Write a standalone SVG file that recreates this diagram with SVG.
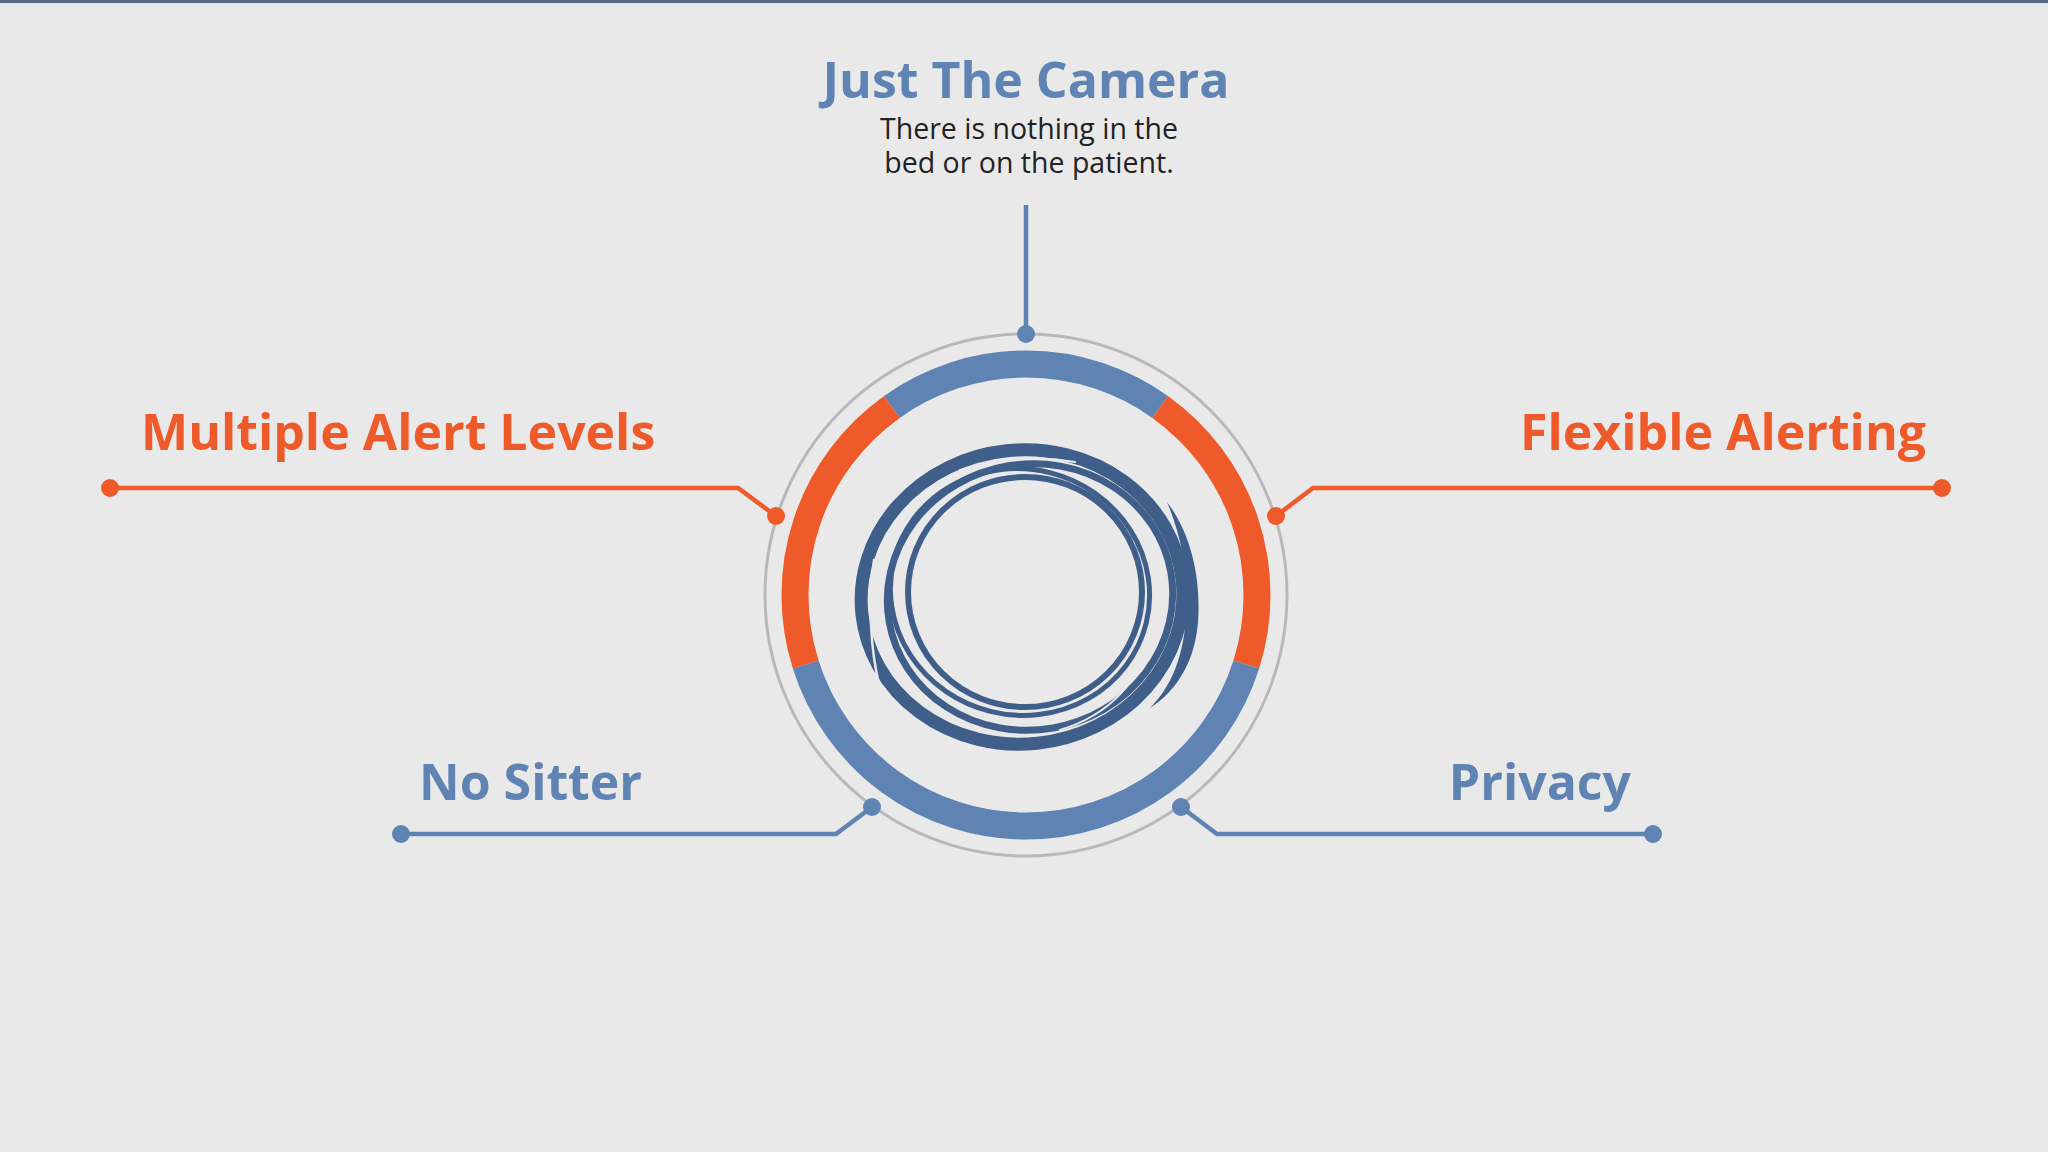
<svg xmlns="http://www.w3.org/2000/svg" width="2048" height="1152" viewBox="0 0 2048 1152">
<style>
.h{font-family:"Open Sans","Noto Sans","Liberation Sans",sans-serif;font-weight:700;font-size:50px}
.o{fill:#ef5a2a}
.b{fill:#5f83b2}
.sub{font-family:"Open Sans","Noto Sans","Liberation Sans",sans-serif;font-size:28.5px;fill:#222}
.lo{stroke:#ef5a2a;stroke-width:4.5;fill:none}
.lb{stroke:#5f83b2;stroke-width:4.5;fill:none}
.sw{fill:none;stroke:#3f5f8a}
.gap{fill:none;stroke:#e9e9e9;stroke-linecap:round}
</style>
<rect width="2048" height="1152" fill="#e9e9e9"/>
<rect width="2048" height="3" fill="#5a6888"/>

<g id="hub">
<circle cx="1026" cy="595" r="261" fill="none" stroke="#b8b8b8" stroke-width="3"/>
<path d="M 891.9 406.9 A 231 231 0 0 1 1160.1 406.9" fill="none" stroke="#5f83b2" stroke-width="27"/>
<path d="M 1160.1 406.9 A 231 231 0 0 1 1246.3 664.5" fill="none" stroke="#ef5a2a" stroke-width="27"/>
<path d="M 1246.3 664.5 A 231 231 0 0 1 805.7 664.5" fill="none" stroke="#5f83b2" stroke-width="27"/>
<path d="M 805.7 664.5 A 231 231 0 0 1 891.9 406.9" fill="none" stroke="#ef5a2a" stroke-width="27"/>
<g id="swirl">
<ellipse class="sw" cx="1022" cy="597" rx="161" ry="147" stroke-width="13" transform="rotate(-6 1022 597)"/>
<path fill="#3f5f8a" d="M 1167 502 C 1192 535 1201 580 1198 622 C 1195 660 1178 690 1150 708 C 1172 686 1184 655 1186 615 C 1188 575 1182 537 1167 502 Z"/>
<ellipse class="sw" cx="1030" cy="597" rx="143" ry="133" stroke-width="7" transform="rotate(-10 1030 597)"/>
<ellipse class="sw" cx="1020" cy="592" rx="130" ry="123" stroke-width="5" transform="rotate(14 1020 592)"/>
<ellipse class="sw" cx="1025" cy="592" rx="117" ry="115" stroke-width="6"/>
<path class="gap" stroke-width="2.5" d="M 874 560 C 868 600 870 650 880 688"/>
<path class="gap" stroke-width="2" d="M 960 470 C 1000 458 1040 456 1075 462"/>
<path class="gap" stroke-width="2" d="M 1150 640 C 1140 680 1110 715 1060 730"/>
</g>
</g>

<g id="connectors">
<line class="lb" x1="1026" y1="205" x2="1026" y2="334"/>
<polyline class="lo" points="110,488 738,488 776,516"/>
<polyline class="lo" points="1942,488 1313,488 1276,516"/>
<polyline class="lb" points="401,834 836,834 872,807"/>
<polyline class="lb" points="1653,834 1217,834 1181,807"/>
<g fill="#5f83b2">
<circle cx="1026" cy="334" r="9"/>
<circle cx="401" cy="834" r="9"/>
<circle cx="872" cy="807" r="9"/>
<circle cx="1653" cy="834" r="9"/>
<circle cx="1181" cy="807" r="9"/>
</g>
<g fill="#ef5a2a">
<circle cx="110" cy="488" r="9"/>
<circle cx="776" cy="516" r="9"/>
<circle cx="1942" cy="488" r="9"/>
<circle cx="1276" cy="516" r="9"/>
</g>
</g>

<g id="just-the-camera">
<text class="h b" x="1026" y="98" text-anchor="middle">Just The Camera</text>
<text class="sub" x="1029" y="139" text-anchor="middle">There is nothing in the</text>
<text class="sub" x="1029" y="173" text-anchor="middle">bed or on the patient.</text>
</g>
<g id="multiple-alert-levels">
<text class="h o" x="141" y="450">Multiple Alert Levels</text>
</g>
<g id="flexible-alerting">
<text class="h o" x="1926" y="450" text-anchor="end">Flexible Alerting</text>
</g>
<g id="no-sitter">
<text class="h b" x="419" y="800">No Sitter</text>
</g>
<g id="privacy">
<text class="h b" x="1631" y="800" text-anchor="end">Privacy</text>
</g>
</svg>
